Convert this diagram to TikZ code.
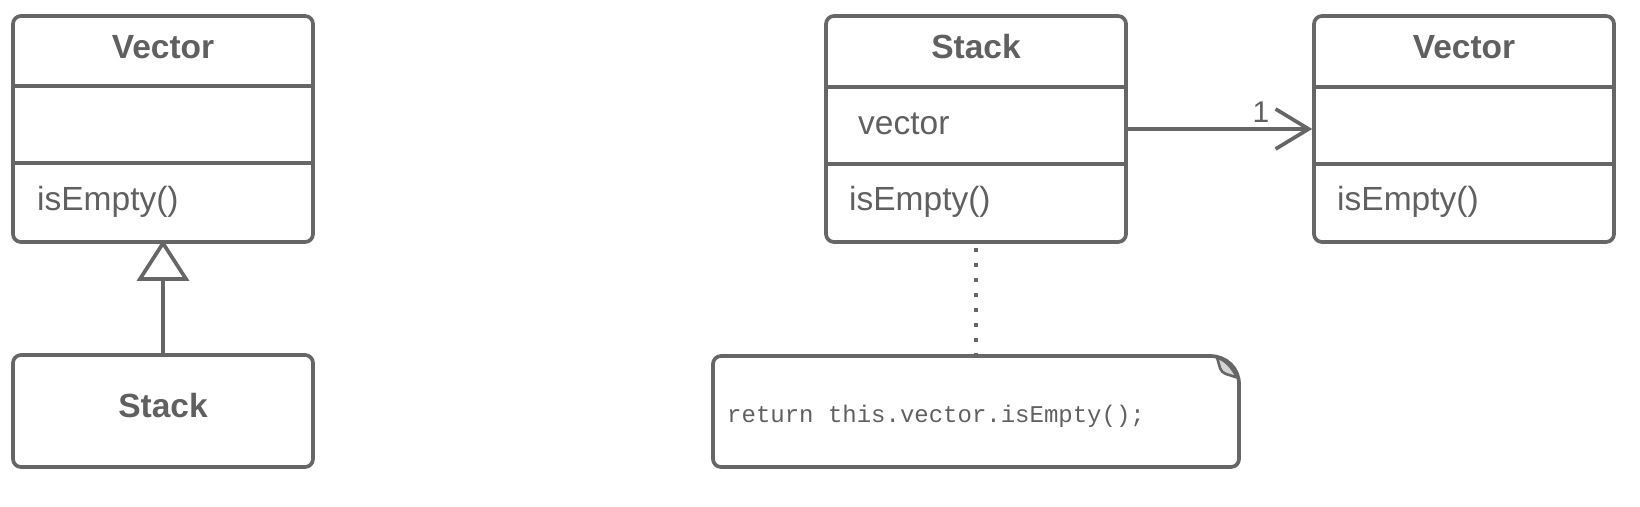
\documentclass[tikz,border=0pt]{standalone}
\usepackage{fontspec}
\setmainfont{Liberation Sans}
\newfontfamily\codefont{Liberation Mono}
\usetikzlibrary{arrows.meta,calc}
\definecolor{umlgray}{RGB}{102,102,102}
\definecolor{umltext}{RGB}{96,96,96}
\definecolor{foldgray}{RGB}{212,212,212}
\begin{document}
\begin{tikzpicture}[x=1pt,y=-1pt,
  classbox/.style={draw=umlgray, line width=3.7pt, rounded corners=8pt, inner sep=0pt, minimum width=300pt},
  hidden/.style={inner sep=0pt},
  classtitle/.style={font=\fontsize{33.5}{38}\selectfont\bfseries, text=umltext, anchor=base, inner sep=0pt},
  member/.style={font=\fontsize{33.5}{38}\selectfont, text=umltext, anchor=base west, inner sep=0pt},
  divider/.style={draw=umlgray, line width=3.7pt},
  link/.style={draw=umlgray, line width=3.7pt},
  codetext/.style={font=\codefont\fontsize{24}{28}\selectfont, text=umltext, anchor=base west, inner sep=0pt}]
\useasboundingbox (0,0) rectangle (1640,506);

% ---- left: inheritance ----
\node[classbox, minimum height=226pt] (lv) at (163,129) {};
\draw[divider] ($(lv.north west)+(0,72)$) -- ($(lv.north east)+(0,72)$);
\draw[divider] ($(lv.north west)+(0,149)$) -- ($(lv.north east)+(0,149)$);
\node[classtitle] (lvtitle) at (163,58) {Vector};
\node[member] (lvop) at (37,210) {isEmpty()};

\node[classbox, minimum height=112pt] (ls) at (163,411) {};
\node[classtitle] (lstitle) at (163,417) {Stack};

\draw[link, shorten >=-4pt, -{Triangle[open, length=41pt, width=52pt, line width=3.7pt]}] (ls.north) -- (lv.south);

% ---- right: composition ----
\node[classbox, minimum height=226pt] (rs) at (976,129) {};
\draw[divider] ($(rs.north west)+(0,73)$) -- ($(rs.north east)+(0,73)$);
\draw[divider] ($(rs.north west)+(0,150)$) -- ($(rs.north east)+(0,150)$);
\node[classtitle] (rstitle) at (976,58) {Stack};
\node[member] (rsattr) at (858,134) {vector};
\node[member] (rsop) at (849,210) {isEmpty()};

\node[classbox, minimum height=226pt] (rv) at (1464,129) {};
\draw[divider] ($(rv.north west)+(0,73)$) -- ($(rv.north east)+(0,73)$);
\draw[divider] ($(rv.north west)+(0,150)$) -- ($(rv.north east)+(0,150)$);
\node[classtitle] (rvtitle) at (1464,58) {Vector};
\node[member] (rvop) at (1337,210) {isEmpty()};

\draw[link, -{Straight Barb[length=33pt, width=40pt, line width=3.7pt]}] (rs.east) -- (rv.west);
\node[font=\fontsize{30}{34}\selectfont, text=umltext, anchor=base, inner sep=0pt] (mult) at (1261,122) {1};

% ---- note ----
\node[hidden, minimum width=526pt, minimum height=111pt] (note) at (976,411.5) {};
\draw[link, rounded corners=8pt, line cap=round] (1210,356) -- (713,356) -- (713,467) -- (1239,467) -- (1239,384);
\draw[link, line cap=round] (1239,384) .. controls (1239,368) and (1226,356) .. (1210,356);
\filldraw[fill=foldgray, draw=umlgray, line width=2.6pt, line join=round]
  (1217,357.5) -- (1220,368) .. controls (1221,371) and (1223,373) .. (1226,374) -- (1237,377.5)
  .. controls (1232,367) and (1225,360) .. cycle;
\node[codetext] (code) at (727,422) {return this.vector.isEmpty();};

\draw[link, line width=4pt, dash pattern=on 4pt off 11pt, dash phase=11pt] (rs.south) -- (note.north);
\end{tikzpicture}
\end{document}
